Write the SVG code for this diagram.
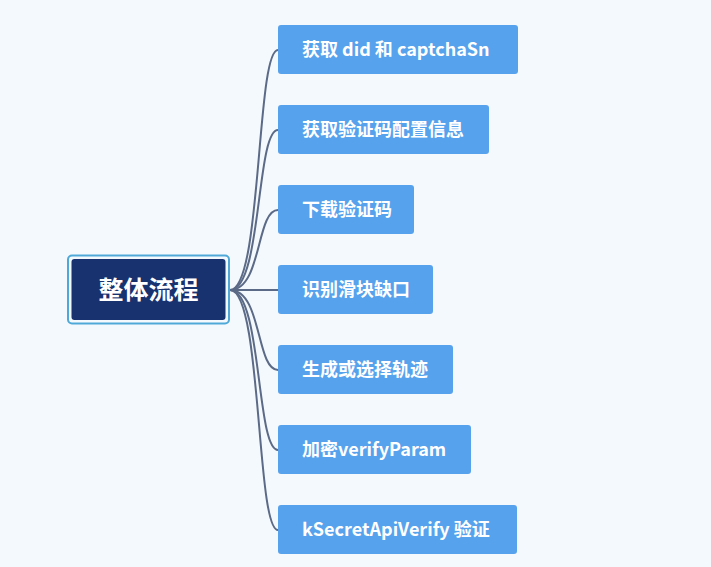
<svg xmlns="http://www.w3.org/2000/svg" width="711" height="567" viewBox="0 0 711 567">
<style>
.bg{fill:#f4f9fd}
.box{fill:#57a2ec}
.t{font-family:"Noto Sans CJK SC","Noto Sans",sans-serif;font-weight:bold;font-size:18px;fill:#ffffff}
.c{fill:none;stroke:#5b6a86;stroke-width:2}
</style>
<rect class="bg" x="0" y="0" width="711" height="567"/>
<g id="connectors">
<path class="c" d="M230,290 C262,290 256,50 278,50"/>
<path class="c" d="M230,290 C262,290 256,130 278,130"/>
<path class="c" d="M230,290 C262,290 256,210 278,210"/>
<path class="c" d="M230,290 L278,290"/>
<path class="c" d="M230,290 C262,290 256,370 278,370"/>
<path class="c" d="M230,290 C262,290 256,450 278,450"/>
<path class="c" d="M230,290 C262,290 256,530 278,530"/>
</g>
<g id="root">
<rect x="68" y="255.5" width="161" height="68" rx="4" fill="none" stroke="#4ea9d9" stroke-width="2"/>
<rect x="71.5" y="259" width="154" height="61" rx="3" fill="#18316f"/>
<text x="148.5" y="299" text-anchor="middle" font-family="'Noto Sans CJK SC',sans-serif" font-weight="bold" font-size="25" fill="#ffffff">整体流程</text>
</g>
<g id="n1"><rect class="box" x="278" y="25" width="240" height="49" rx="3"/><text class="t" x="302" y="56">获取 did 和 captchaSn</text></g>
<g id="n2"><rect class="box" x="278" y="105" width="211" height="49" rx="3"/><text class="t" x="302" y="136">获取验证码配置信息</text></g>
<g id="n3"><rect class="box" x="278" y="185" width="136" height="49" rx="3"/><text class="t" x="302" y="216">下载验证码</text></g>
<g id="n4"><rect class="box" x="278" y="265" width="155" height="49" rx="3"/><text class="t" x="302" y="296">识别滑块缺口</text></g>
<g id="n5"><rect class="box" x="278" y="345" width="175" height="49" rx="3"/><text class="t" x="302" y="376">生成或选择轨迹</text></g>
<g id="n6"><rect class="box" x="278" y="425" width="193" height="49" rx="3"/><text class="t" x="302" y="456">加密verifyParam</text></g>
<g id="n7"><rect class="box" x="278" y="505" width="239" height="49" rx="3"/><text class="t" x="302" y="536">kSecretApiVerify 验证</text></g>
</svg>
